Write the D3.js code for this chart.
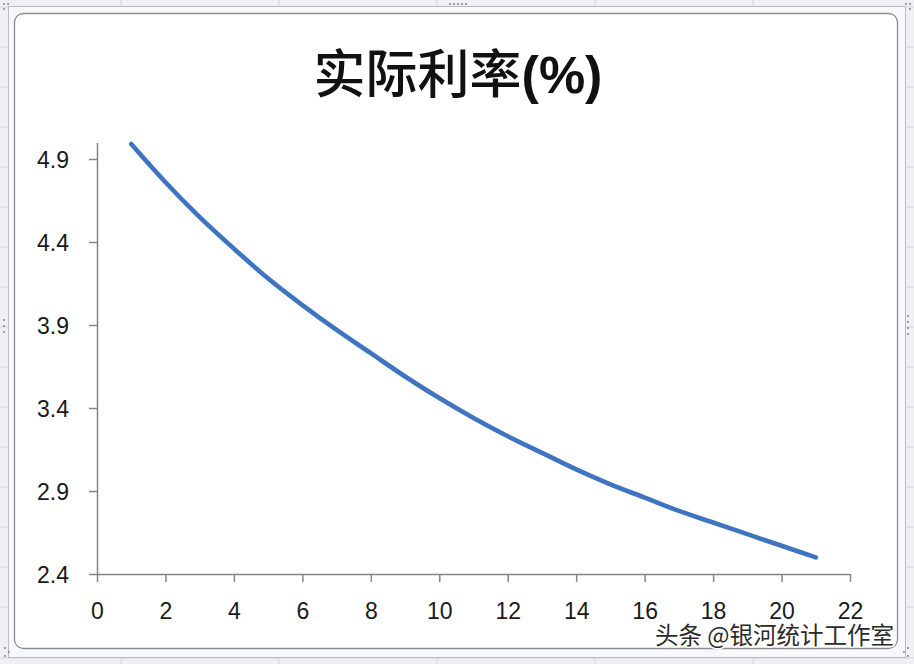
<!DOCTYPE html>
<html><head><meta charset="utf-8">
<script src="https://cdn.jsdelivr.net/npm/d3@7"></script>
<style>
html,body{margin:0;padding:0;background:#fff;}
svg{display:block;}
</style></head>
<body>
<svg id="chart" width="914" height="664"></svg>
<script>
// ---- data ----
const periods = [1,2,3,4,5,6,7,8,9,10,11,12,13,14,15,16,17,18,19,20,21];
const realRate = [4.99,4.76,4.55,4.36,4.18,4.02,3.87,3.73,3.59,3.46,3.34,3.23,3.13,3.03,2.94,2.86,2.78,2.71,2.64,2.57,2.50];
const xTicks = [0,2,4,6,8,10,12,14,16,18,20,22];
const yTicks = [2.4,2.9,3.4,3.9,4.4,4.9];
const titleCJK = "实际利率";
const titleUnit = "(%)";
const watermark = "头条 @银河统计工作室";

const svg = d3.select("#chart");

// ---- spreadsheet backdrop ----
svg.append("rect").attr("x",0).attr("y",0).attr("width",914).attr("height",664).attr("fill","#eef0f2");
const colLines = [121,279,437,595,753];
colLines.forEach(x=>{
  svg.append("line").attr("x1",x).attr("x2",x).attr("y1",0).attr("y2",664).attr("stroke","#d4d6d9").attr("stroke-width",1);
});
const rowLines = [7,47,87,127,167,207,247,287,327,367,407,447,487,527,567,607,658];
rowLines.forEach(y=>{
  svg.append("line").attr("x1",0).attr("x2",914).attr("y1",y).attr("y2",y).attr("stroke","#d4d6d9").attr("stroke-width",1);
});
// selection frame
svg.append("rect").attr("x",8.5).attr("y",6.5).attr("width",897).attr("height",651)
  .attr("fill","#f7f8f9").attr("stroke","#b9bcc0").attr("stroke-width",1);
// chart area
svg.append("rect").attr("x",14.5).attr("y",13.5).attr("width",883).attr("height",635).attr("rx",9)
  .attr("fill","#ffffff").attr("stroke","#8a8c8f").attr("stroke-width",1.3);

// handle dots
function dots(pts){
  pts.forEach(p=>svg.append("circle").attr("cx",p[0]).attr("cy",p[1]).attr("r",1.1).attr("fill","#8a8c8f"));
}
dots([[450,4],[454,4],[458,4],[462,4],[466,4]]);
dots([[4,4],[8,4],[4,9],[906,4],[910,4],[910,9]]);
dots([[5,648],[9,652],[5,656],[904,652],[908,648],[908,656]]);
dots([[908,316],[908,322],[908,328],[908,334]]);
dots([[4,320],[4,326],[4,332]]);

// ---- scales ----
const x = d3.scaleLinear().domain([0,22]).range([97,850]);
const y = d3.scaleLinear().domain([2.4,5.0]).range([574,142.4]);

// ---- title ----
const t = svg.append("text").attr("x",458).attr("y",93).attr("text-anchor","middle")
  .attr("font-size",52).attr("fill","#111");
t.append("tspan").attr("font-family","'Noto Sans CJK SC',sans-serif").attr("font-weight",500).text(titleCJK);
t.append("tspan").attr("font-family","'Liberation Sans',Arial,sans-serif").attr("font-weight","bold").text(titleUnit);

// ---- axes ----
const axisColor = "#858585";
const gx = svg.append("g").attr("transform","translate(0,574)")
  .call(d3.axisBottom(x).tickValues(xTicks).tickSize(8).tickSizeOuter(0).tickPadding(20).tickFormat(d3.format("d")));
const gy = svg.append("g").attr("transform","translate(97,0)")
  .call(d3.axisLeft(y).tickValues(yTicks).tickSize(8).tickSizeOuter(0).tickPadding(20).tickFormat(d3.format(".1f")));
[gx,gy].forEach(g=>{
  g.selectAll("path").attr("stroke",axisColor).attr("stroke-width",1.5);
  g.selectAll("line").attr("stroke",axisColor).attr("stroke-width",1.5);
  g.selectAll("text").attr("font-family","'Liberation Sans',Arial,sans-serif")
   .attr("font-size",23).attr("fill","#1a1a1a");
});
gx.selectAll("text").attr("dy","0.72em");
gy.selectAll("text").attr("dy","0.36em");

// ---- line ----
const data = periods.map((p,i)=>({p, v: realRate[i]}));
svg.append("path").datum(data)
  .attr("fill","none").attr("stroke","#3f74c0").attr("stroke-width",4.6)
  .attr("stroke-linecap","round").attr("stroke-linejoin","round")
  .attr("d", d3.line().x(d=>x(d.p)).y(d=>y(d.v)).curve(d3.curveCatmullRom.alpha(0.5)));

// ---- watermark ----
svg.append("text").attr("x",894).attr("y",644).attr("text-anchor","end")
  .attr("font-family","'Noto Sans CJK SC',sans-serif").attr("font-size",23.5)
  .attr("fill","#2a2a2a").attr("stroke","#ffffff").attr("stroke-width",3)
  .attr("paint-order","stroke").attr("stroke-linejoin","round")
  .text(watermark);
</script>
</body></html>
